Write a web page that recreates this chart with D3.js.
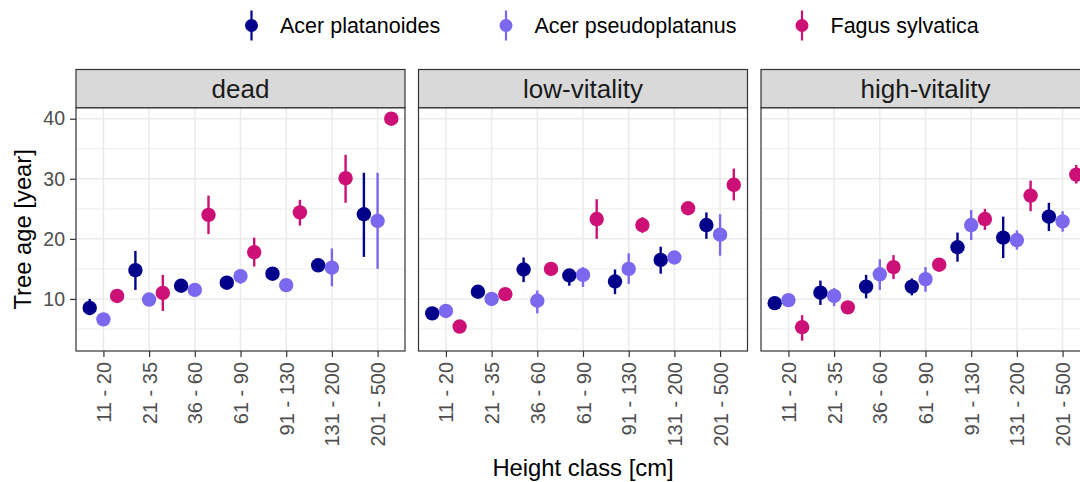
<!DOCTYPE html>
<html>
<head>
<meta charset="utf-8">
<title>Tree age by height class</title>
<script src="https://d3js.org/d3.v7.min.js"></script>
<style>
  body { margin: 0; background: white; }
  text { font-family: "Liberation Sans", Arial, sans-serif; }
</style>
</head>
<body>
<svg id="chart" width="1080" height="482"></svg>
<script>
// ---- data ----
var heightClasses = ["11 - 20", "21 - 35", "36 - 60", "61 - 90", "91 - 130", "131 - 200", "201 - 500"];
var species = ["Acer platanoides", "Acer pseudoplatanus", "Fagus sylvatica"];
var vitality = ["dead", "low-vitality", "high-vitality"];
var yTicks = [10, 20, 30, 40];
var yMinor = [5, 15, 25, 35];

// rows = species (same order as above), columns = height classes
var deadMean = [[8.5, 14.8, 12.2, 12.7, 14.2, 15.6, 24.1],
                [6.6, 9.9, 11.5, 13.8, 12.3, 15.2, 23.0],
                [10.5, 11.0, 24.0, 17.8, 24.4, 30.1, 40.0]];
var deadLow  = [[7.3, 11.5, 11.6, 12.1, 13.6, 15.0, 17.0],
                [6.0, 9.2, 10.9, 12.5, 11.6, 12.1, 15.0],
                [10.0, 8.0, 20.8, 15.4, 22.2, 26.0, 40.0]];
var deadHigh = [[10.0, 18.0, 12.8, 13.3, 14.8, 16.2, 31.0],
                [7.2, 10.6, 12.1, 14.6, 13.0, 18.4, 31.0],
                [11.0, 14.0, 27.2, 20.2, 26.5, 34.0, 40.0]];

var lowMean = [[7.6, 11.2, 14.9, 13.9, 12.9, 16.5, 22.3],
               [8.0, 10.0, 9.7, 14.0, 15.0, 16.9, 20.7],
               [5.4, 10.8, 15.0, 23.3, 22.3, 25.1, 29.0]];
var lowLow  = [[7.1, 10.7, 12.8, 12.2, 10.8, 14.2, 20.0],
               [7.4, 9.3, 7.6, 12.0, 12.5, 16.3, 17.2],
               [5.0, 10.3, 14.4, 20.0, 21.0, 24.6, 26.4]];
var lowHigh = [[8.1, 11.7, 16.9, 14.8, 14.9, 18.7, 24.4],
               [8.6, 11.0, 11.4, 15.3, 17.6, 17.5, 24.1],
               [5.8, 11.3, 15.6, 26.6, 23.6, 25.6, 31.7]];

var highMean = [[9.3, 11.05, 12.05, 12.05, 18.6, 20.2, 23.7],
                [9.8, 10.5, 14.1, 13.3, 22.3, 19.8, 22.9],
                [5.3, 8.6, 15.3, 15.7, 23.3, 27.2, 30.7]];
var highLow  = [[8.9, 9.0, 10.1, 10.6, 16.2, 16.8, 21.3],
                [9.4, 8.8, 11.5, 11.2, 19.8, 18.2, 21.2],
                [3.05, 8.2, 13.3, 15.3, 21.5, 24.6, 29.2]];
var highHigh = [[9.7, 13.05, 14.0, 13.4, 21.05, 23.7, 26.0],
                [10.2, 11.8, 16.6, 15.3, 24.8, 21.4, 24.6],
                [7.3, 9.0, 17.3, 16.1, 25.0, 29.7, 32.3]];

var colors = ["#00008B", "#7B68EE", "#CD1076"];

// ---- layout ----
var svg = d3.select("#chart");
var panelX = [76, 418.5, 761];
var panelW = 329;
var stripTop = 69.5, panelTop = 107.7, panelBottom = 351;

var y = d3.scaleLinear().domain([1.333, 41.833]).range([panelBottom, panelTop]);
var dodge = d3.scalePoint().domain([0, 1, 2]).range([-13.7, 13.7]);

var panels = [
  { name: vitality[0], mean: deadMean, lo: deadLow, hi: deadHigh },
  { name: vitality[1], mean: lowMean, lo: lowLow, hi: lowHigh },
  { name: vitality[2], mean: highMean, lo: highLow, hi: highHigh }
];

panels.forEach(function(p, pi) {
  var x = d3.scalePoint().domain(heightClasses)
      .range([panelX[pi], panelX[pi] + panelW]).padding(0.6);
  var g = svg.append("g");

  // grid
  g.selectAll(".minor").data(yMinor).enter().append("line")
    .attr("x1", panelX[pi]).attr("x2", panelX[pi] + panelW)
    .attr("y1", function(d) { return y(d); }).attr("y2", function(d) { return y(d); })
    .attr("stroke", "#EBEBEB").attr("stroke-width", 0.9);
  g.selectAll(".majy").data(yTicks).enter().append("line")
    .attr("x1", panelX[pi]).attr("x2", panelX[pi] + panelW)
    .attr("y1", function(d) { return y(d); }).attr("y2", function(d) { return y(d); })
    .attr("stroke", "#EBEBEB").attr("stroke-width", 1.5);
  g.selectAll(".majx").data(heightClasses).enter().append("line")
    .attr("y1", panelTop).attr("y2", panelBottom)
    .attr("x1", function(d) { return x(d); }).attr("x2", function(d) { return x(d); })
    .attr("stroke", "#EBEBEB").attr("stroke-width", 1.5);

  // point ranges
  species.forEach(function(s, si) {
    var rows = heightClasses.map(function(h, hi) {
      return { h: h, m: p.mean[si][hi], lo: p.lo[si][hi], hi: p.hi[si][hi] };
    });
    var sg = g.append("g");
    sg.selectAll("line").data(rows).enter().append("line")
      .attr("x1", function(d) { return x(d.h) + dodge(si); })
      .attr("x2", function(d) { return x(d.h) + dodge(si); })
      .attr("y1", function(d) { return y(d.lo); })
      .attr("y2", function(d) { return y(d.hi); })
      .attr("stroke", colors[si]).attr("stroke-width", 2.4);
    sg.selectAll("circle").data(rows).enter().append("circle")
      .attr("cx", function(d) { return x(d.h) + dodge(si); })
      .attr("cy", function(d) { return y(d.m); })
      .attr("r", 7.2)
      .attr("fill", colors[si]);
  });

  // panel border
  g.append("rect")
    .attr("x", panelX[pi]).attr("y", panelTop)
    .attr("width", panelW).attr("height", panelBottom - panelTop)
    .attr("fill", "none").attr("stroke", "#333333").attr("stroke-width", 1.2);

  // strip
  g.append("rect")
    .attr("x", panelX[pi]).attr("y", stripTop)
    .attr("width", panelW).attr("height", panelTop - stripTop)
    .attr("fill", "#D9D9D9").attr("stroke", "#333333").attr("stroke-width", 1.2);
  g.append("text")
    .attr("x", panelX[pi] + panelW / 2).attr("y", (stripTop + panelTop) / 2)
    .attr("text-anchor", "middle").attr("dominant-baseline", "central")
    .attr("font-size", 26).attr("fill", "#1A1A1A")
    .text(p.name);

  // x axis
  var xa = g.append("g").attr("transform", "translate(0," + panelBottom + ")")
    .call(d3.axisBottom(x).tickSize(6).tickPadding(4));
  xa.select(".domain").remove();
  xa.selectAll(".tick line").attr("stroke", "#333333").attr("stroke-width", 1.2);
  xa.selectAll(".tick text")
    .attr("transform", "rotate(-90)")
    .attr("x", -11).attr("y", 0).attr("dy", "0.35em")
    .attr("text-anchor", "end")
    .attr("font-size", 20).attr("fill", "#4D4D4D")
    .style("font-family", "'Liberation Sans', Arial, sans-serif");

  // y axis (first panel only)
  if (pi === 0) {
    var ya = g.append("g").attr("transform", "translate(" + panelX[0] + ",0)")
      .call(d3.axisLeft(y).tickValues(yTicks).tickSize(6).tickPadding(5));
    ya.select(".domain").remove();
    ya.selectAll(".tick line").attr("stroke", "#333333").attr("stroke-width", 1.2);
    ya.selectAll(".tick text").attr("font-size", 19.5).attr("fill", "#4D4D4D")
      .style("font-family", "'Liberation Sans', Arial, sans-serif");
  }
});

// axis titles
svg.append("text")
  .attr("x", 583).attr("y", 476)
  .attr("text-anchor", "middle").attr("font-size", 23.8).attr("fill", "#000")
  .text("Height class [cm]");
svg.append("text")
  .attr("transform", "translate(31," + ((panelTop + panelBottom) / 2) + ") rotate(-90)")
  .attr("text-anchor", "middle").attr("font-size", 23.8).attr("fill", "#000")
  .text("Tree age [year]");

// legend
var legX = [251.5, 506, 802];
var legY = 25.5;
species.forEach(function(s, si) {
  var lg = svg.append("g");
  lg.append("line")
    .attr("x1", legX[si]).attr("x2", legX[si])
    .attr("y1", legY - 15).attr("y2", legY + 15)
    .attr("stroke", colors[si]).attr("stroke-width", 2.2);
  lg.append("circle")
    .attr("cx", legX[si]).attr("cy", legY).attr("r", 6.5)
    .attr("fill", colors[si]);
  lg.append("text")
    .attr("x", legX[si] + 28.5).attr("y", legY)
    .attr("dominant-baseline", "central")
    .attr("font-size", 21.5).attr("fill", "#000")
    .text(s);
});
</script>
</body>
</html>
